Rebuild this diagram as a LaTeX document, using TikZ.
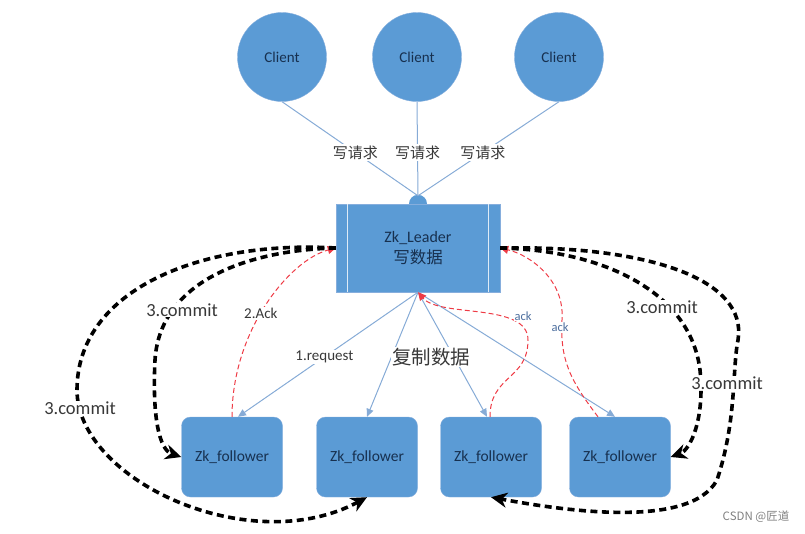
\documentclass[tikz,border=0pt]{standalone}
\usepackage{fontspec}
\setmainfont{Carlito}
\newfontfamily\cjk{Noto Sans CJK SC}
\usetikzlibrary{arrows.meta}
\definecolor{nodeblue}{HTML}{5B9BD5}
\definecolor{rimblue}{HTML}{86AEDD}
\definecolor{navy}{HTML}{17304F}
\definecolor{lineblue}{HTML}{86ABD6}
\definecolor{ackred}{HTML}{EE3B45}
\definecolor{labelgray}{HTML}{383838}
\definecolor{ackblue}{HTML}{4C6E9E}
\begin{document}
\begin{tikzpicture}[x=1pt,y=-1pt,
  client/.style={circle, fill=nodeblue, draw=rimblue, minimum size=89pt, inner sep=0pt, text=navy, font=\fontsize{15}{17}\selectfont},
  leader/.style={rectangle, fill=nodeblue, draw=rimblue, minimum width=164pt, minimum height=88pt, align=center, text=navy, font=\fontsize{16}{21}\selectfont},
  follower/.style={rectangle, rounded corners=9pt, fill=nodeblue, draw=rimblue, minimum width=101pt, minimum height=80pt, text=navy, font=\fontsize{15.5}{17}\selectfont},
  reqline/.style={lineblue, line width=1pt},
  req/.style={fill=white, inner sep=1.5pt, text=labelgray, font=\cjk\fontsize{15}{17}\selectfont},
  sendarrow/.style={lineblue, line width=1pt, -{Triangle[length=8pt,width=7pt]}},
  ackarrow/.style={ackred, line width=1pt, dash pattern=on 5pt off 3pt, -{Triangle[length=8pt,width=8pt]}},
  commit/.style={black, line width=3.6pt, dash pattern=on 7pt off 4.5pt, -{Stealth[length=16pt,width=15pt,inset=5pt]}},
  commitlabel/.style={fill=white, inner sep=1pt, text=labelgray, font=\fontsize{18.5}{20}\selectfont},
  acklabel/.style={fill=white, inner sep=1pt, text=ackblue, font=\fontsize{12.5}{14}\selectfont}]
\useasboundingbox (0,0) rectangle (805,533);

\node[client] (c1) at (282,57) {Client};
\node[client] (c2) at (417,57) {Client};
\node[client] (c3) at (559,57) {Client};

\node[leader] (ld) at (418,248) {Zk\_Leader\\{\cjk\fontsize{16.5}{21}\selectfont 写数据}};
\draw[white!80!nodeblue, line width=1pt] ([xshift=12pt]ld.north west) -- ([xshift=12pt]ld.south west);
\draw[white!80!nodeblue, line width=1pt] ([xshift=-12pt]ld.north east) -- ([xshift=-12pt]ld.south east);
\fill[nodeblue] ([xshift=-9pt]ld.north) arc[start angle=180, end angle=0, radius=9pt];
\coordinate (jn) at ([yshift=8pt]ld.north);

\node[follower] (f1) at (232,457) {Zk\_follower};
\node[follower] (f2) at (367,457) {Zk\_follower};
\node[follower] (f3) at (491,457) {Zk\_follower};
\node[follower] (f4) at (620,457) {Zk\_follower};

\draw[reqline] (c1.south) -- node[req, pos=0.54] {写请求} (jn);
\draw[reqline] (c2.south) -- node[req, pos=0.54] {写请求} (jn);
\draw[reqline] (c3.south) -- node[req, pos=0.54] {写请求} (jn);

\draw[sendarrow] (ld.south) -- node[pos=0.52, fill=white, inner sep=1pt, text=labelgray, font=\fontsize{15}{17}\selectfont] {1.request} ([xshift=6pt]f1.north);
\draw[sendarrow] (ld.south) -- (f2.north);
\draw[sendarrow] (ld.south) -- ([xshift=-4pt]f3.north);
\draw[sendarrow] (ld.south) -- ([xshift=-5pt]f4.north);
\node[fill=white, inner sep=1pt, text=labelgray, font=\cjk\fontsize{19.5}{21}\selectfont] (copy) at (431,357) {复制数据};

\draw[ackarrow] (f1.north) .. controls (232,330) and (290,260) .. node[pos=0.45, fill=white, inner sep=1pt, text=labelgray, font=\fontsize{15}{17}\selectfont] {2.Ack} (ld.west);
\draw[ackarrow] ([xshift=-1pt]f3.north) .. controls (490,375) and (528,380) .. (528,340) .. controls (528,302) and (440,318) .. (ld.south);
\draw[ackarrow] ([xshift=-22pt]f4.north) .. controls (570,380) and (560,360) .. (562,320) .. controls (565,280) and (530,255) .. (ld.east);
\node[acklabel] (ack1) at (523,316) {ack};
\node[acklabel] (ack2) at (560,327) {ack};

\draw[commit] (ld.west) .. controls (200,240) and (77,290) .. (77,390) .. controls (77,480) and (250,560) .. (f2.south);
\draw[commit] (ld.west) .. controls (250,250) and (160,280) .. (155,360) .. controls (152,420) and (160,450) .. (f1.west);
\draw[commit] (ld.east) .. controls (600,250) and (690,290) .. (700,370) .. controls (705,420) and (690,450) .. (f4.east);
\draw[commit] (ld.east) .. controls (650,245) and (748,280) .. (738,340) .. controls (732,370) and (737,420) .. (717,480) .. controls (690,530) and (560,510) .. (f3.south);
\node[commitlabel] (cm1) at (80,408) {3.commit};
\node[commitlabel] (cm2) at (182,310) {3.commit};
\node[commitlabel] (cm3) at (662,307) {3.commit};
\node[commitlabel] (cm4) at (727,383) {3.commit};

\node[text=gray, font=\cjk\fontsize{11.5}{13}\selectfont] (mark) at (756,517) {CSDN @匠道};
\end{tikzpicture}
\end{document}
